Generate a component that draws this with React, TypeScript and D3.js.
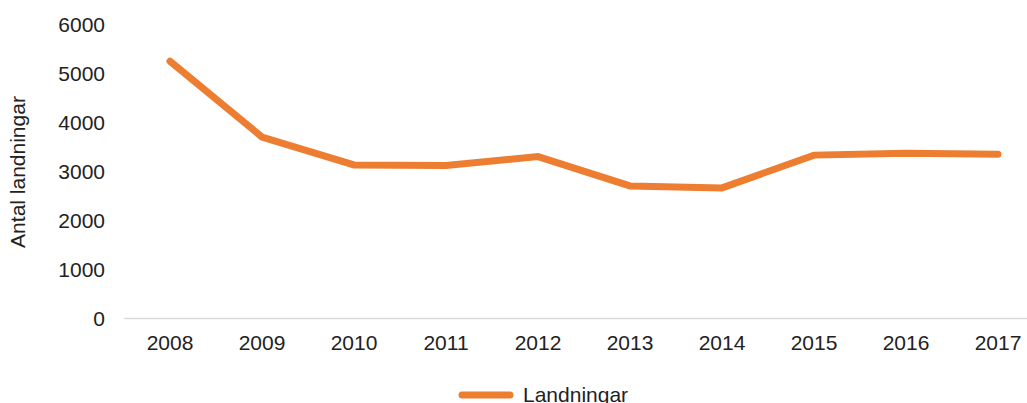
import React from "react";
import * as d3 from "d3";

const years = ["2008", "2009", "2010", "2011", "2012", "2013", "2014", "2015", "2016", "2017"];
const landningar = [5260, 3710, 3140, 3130, 3310, 2710, 2670, 3340, 3380, 3360];
const yTicks = [0, 1000, 2000, 3000, 4000, 5000, 6000];

export default function App() {
  const W = 1027, H = 403;
  const x = d3.scaleBand<string>().domain(years).range([124, 1044]);
  const y = d3.scaleLinear().domain([0, 6000]).range([318.5, 25]);
  const line = d3.line<number>()
    .x((_, i) => (x(years[i]) as number) + x.bandwidth() / 2)
    .y((d) => y(d));
  const font = "'Liberation Sans', Arial, sans-serif";
  return (
    <svg width={W} height={H} style={{ position: "absolute", left: 0, top: 0 }} fontFamily={font}>
      <rect width={W} height={H} fill="#fff" />
      <line x1={124} x2={W} y1={y(0)} y2={y(0)} stroke="#d9d9d9" strokeWidth={1.5} />
      {yTicks.map((t) => (
        <text key={t} x={105} y={y(t)} dy="0.35em" textAnchor="end" fontSize={21} fill="#222">{t}</text>
      ))}
      {years.map((yr) => (
        <text key={yr} x={(x(yr) as number) + x.bandwidth() / 2} y={343} dy="0.35em" textAnchor="middle" fontSize={21} fill="#222">{yr}</text>
      ))}
      <text transform={`translate(18,172) rotate(-90)`} textAnchor="middle" dy="0.35em" fontSize={21} fill="#222">Antal landningar</text>
      <path d={line(landningar) || ""} fill="none" stroke="#ED7D31" strokeWidth={7} strokeLinecap="round" strokeLinejoin="miter" />
      <line x1={462} x2={510} y1={395} y2={395} stroke="#ED7D31" strokeWidth={7} strokeLinecap="round" />
      <text x={523} y={402} fontSize={21} fill="#222">Landningar</text>
    </svg>
  );
}
